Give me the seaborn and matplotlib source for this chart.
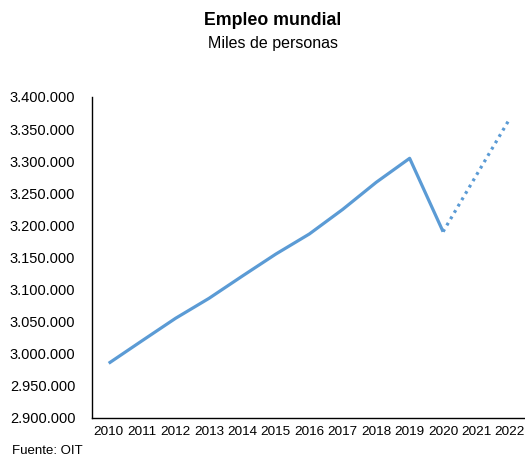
import matplotlib
matplotlib.use("Agg")
import matplotlib.pyplot as plt
import seaborn as sns
import pandas as pd
from matplotlib.ticker import FuncFormatter

years = [2010, 2011, 2012, 2013, 2014, 2015, 2016, 2017, 2018, 2019, 2020, 2021, 2022]
empleo = [2985200, 3020400, 3055300, 3086400, 3121200, 3155400, 3186600,
          3225000, 3267100, 3304500, 3190200, 3278500, 3366800]
n_obs = 11  # 2010-2020 observed, rest projected

sns.set_style("white")
plt.rcParams['font.family'] = ['Liberation Sans', 'DejaVu Sans']
plt.rcParams['text.color'] = 'black'
plt.rcParams['xtick.color'] = 'black'
plt.rcParams['ytick.color'] = 'black'

df = pd.DataFrame({"year": years, "empleo": empleo})
obs = df.iloc[:n_obs]
proj = df.iloc[n_obs - 1:]

fig = plt.figure(figsize=(5.25, 4.63), dpi=100)
ax = fig.add_axes([0.1752, 0.0972, 0.8248, 0.6933])

color = "#5B9BD5"
sns.lineplot(data=obs, x="year", y="empleo", ax=ax, color=color, linewidth=2.3,
             solid_capstyle="butt")
sns.lineplot(data=proj, x="year", y="empleo", ax=ax, color=color, linewidth=2.3,
             linestyle=(0, (0.9, 1.4)), dash_capstyle="butt")

ax.set_xlim(2009.5, 2022.45)
ax.set_ylim(2900000, 3400000)
ax.set_yticks(range(2900000, 3400001, 50000))
ax.set_xticks(years)
ax.set_xticklabels([str(y) for y in years], fontsize=9.7)
ax.yaxis.set_major_formatter(FuncFormatter(lambda v, p: f"{int(v):,}".replace(",", ".")))
ax.tick_params(axis="y", labelsize=10.5, length=0, pad=12, labelcolor="black")
ax.tick_params(axis="x", length=0, pad=6, labelcolor="black")
ax.set_xlabel("")
ax.set_ylabel("")
for s in ["top", "right"]:
    ax.spines[s].set_visible(False)
for s in ["left", "bottom"]:
    ax.spines[s].set_color("black")
    ax.spines[s].set_linewidth(1.0)
ax.grid(False)

fig.text(0.52, 0.955, "Empleo mundial", ha="center", va="center", fontsize=12.8,
         fontweight="bold", color="black")
fig.text(0.52, 0.907, "Miles de personas", ha="center", va="center", fontsize=11.5,
         color="black")
fig.text(0.023, 0.013, "Fuente: OIT", ha="left", va="bottom", fontsize=9.5, color="black")

fig.savefig("out.png", dpi=100)
